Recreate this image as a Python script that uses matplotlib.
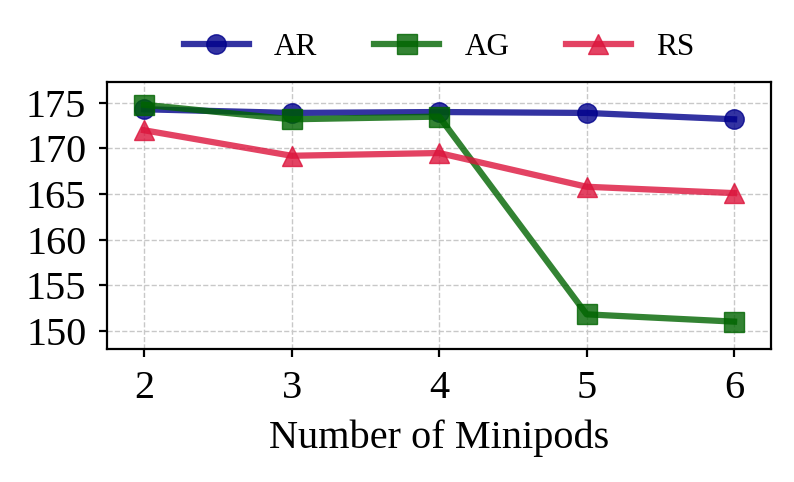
import matplotlib
matplotlib.use("Agg")
import matplotlib.pyplot as plt

plt.rcParams['font.family'] = ['Liberation Serif', 'DejaVu Serif']

minipods = [2, 3, 4, 5, 6]
ar = [174.3, 173.9, 174.0, 173.9, 173.2]
ag = [174.8, 173.2, 173.5, 151.8, 151.0]
rs = [172.0, 169.2, 169.5, 165.8, 165.1]
labels = ["AR", "AG", "RS"]

fig = plt.figure(figsize=(7.94, 4.82), dpi=100)
ax = fig.add_axes([0.135, 0.276, 0.836, 0.554])

ax.plot(minipods, ar, color='darkblue', marker='o', lw=4.5, ms=14, alpha=0.8, label=labels[0])
ax.plot(minipods, ag, color='darkgreen', marker='s', lw=4.5, ms=14, alpha=0.8, label=labels[1])
ax.plot(minipods, rs, color='crimson', marker='^', lw=4.5, ms=14, alpha=0.8, label=labels[2])

ax.set_xlim(1.75, 6.25)
ax.set_ylim(148.0, 177.3)
ax.set_xticks(minipods)
ax.set_yticks([150, 155, 160, 165, 170, 175])
ax.tick_params(labelsize=29, width=1.6, length=6, pad=9)
ax.set_xlabel("Number of Minipods", fontsize=29, labelpad=9)
ax.grid(True, linestyle='--', color='#c8c8c8', lw=1)
for s in ax.spines.values():
    s.set_linewidth(1.6)

ax.legend(loc='lower center', bbox_to_anchor=(0.5, 0.97), ncol=3, frameon=False,
          fontsize=22.5, handlelength=2.1, handletextpad=0.8, columnspacing=1.8)

fig.savefig("out.png", dpi=100)
